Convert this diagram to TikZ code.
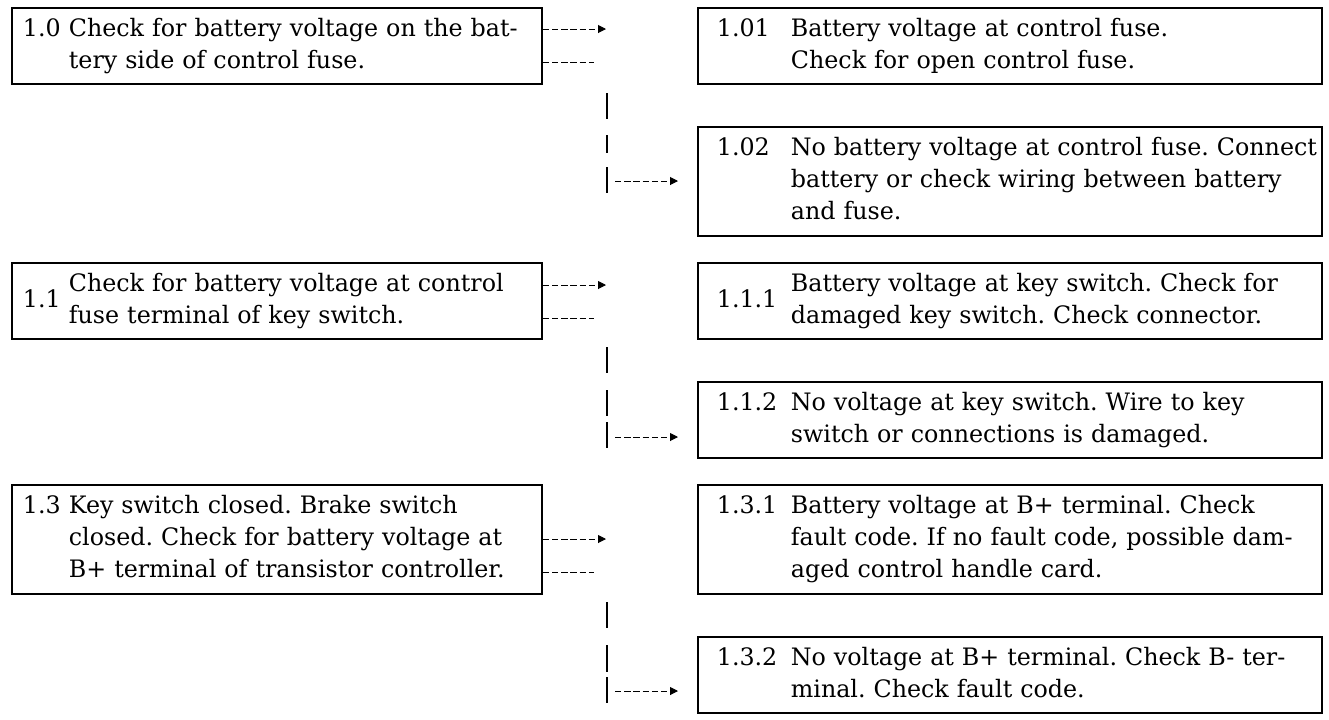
\documentclass[tikz,border=0pt]{standalone}
\usepackage{fontspec}
\setmainfont{DejaVu Serif}[FakeStretch=0.99]
\usetikzlibrary{arrows.meta}
\frenchspacing
\newcommand{\leftitem}[3][0pt]{\makebox[23pt][l]{\raisebox{-#1}{#2}}\begin{tabular}[t]{@{}l@{}}#3\end{tabular}}
\newcommand{\rightitem}[3][0pt]{\makebox[37pt][l]{\raisebox{-#1}{#2}}\begin{tabular}[t]{@{}l@{}}#3\end{tabular}}

\begin{document}
\begin{tikzpicture}[x=0.5pt, y=-0.5pt,
    font=\fontsize{12}{16}\selectfont,
    chkbox/.style={draw, line width=0.9pt, anchor=north west, text width=254pt,
      inner xsep=5.5pt, inner ysep=0pt, align=left, minimum height=38pt},
    resbox/.style={chkbox, text width=293pt, inner xsep=9.5pt},
    tall/.style={minimum height=54.5pt},
    dashline/.style={line width=0.5pt, dash pattern=on 3.2pt off 1.4pt},
    dasharrow/.style={dashline, -{Triangle[length=4pt,width=4pt]}},
    riser/.style={line width=0.55pt}]
    \useasboundingbox (0,0) rectangle (1329,719);

    % checks
    \node[chkbox] (chk10) at (11,7) {\leftitem{1.0}{Check for battery voltage on the bat-\\tery side of control fuse.}};
    \node[chkbox] (chk11) at (11,262) {\leftitem[8pt]{1.1}{Check for battery voltage at control\\fuse terminal of key switch.}};
    \node[chkbox, tall] (chk13) at (11,484) {\leftitem{1.3}{Key switch closed. Brake switch\\closed. Check for battery voltage at\\B+ terminal of transistor controller.}};

    % results
    \node[resbox] (res101) at (697,7) {\rightitem{1.01}{Battery voltage at control fuse.\\Check for open control fuse.}};
    \node[resbox, tall] (res102) at (697,126) {\rightitem{1.02}{No battery voltage at control fuse. Connect\\battery or check wiring between battery\\and fuse.}};
    \node[resbox] (res111) at (697,262) {\rightitem[8pt]{1.1.1}{Battery voltage at key switch. Check for\\damaged key switch. Check connector.}};
    \node[resbox] (res112) at (697,381) {\rightitem{1.1.2}{No voltage at key switch. Wire to key\\switch or connections is damaged.}};
    \node[resbox, tall] (res131) at (697,484) {\rightitem{1.3.1}{Battery voltage at B+ terminal. Check\\fault code. If no fault code, possible dam-\\aged control handle card.}};
    \node[resbox] (res132) at (697,636) {\rightitem{1.3.2}{No voltage at B+ terminal. Check B- ter-\\minal. Check fault code.}};

    % row 1.0
    \coordinate (up10) at (606,29);
    \coordinate (dn10) at (594,62);
    \coordinate (go10) at (615,181);
    \draw[dasharrow] (chk10.east |- up10) -- (up10);
    \draw[dashline] (chk10.east |- dn10) -- (dn10);
    \draw[riser] (607,93) -- (607,119) (607,135) -- (607,153) (607,167) -- (607,193);
    \draw[dasharrow, shorten >=9.5pt] (go10) -- (go10 -| res102.west);

    % row 1.1
    \coordinate (up11) at (606,285);
    \coordinate (dn11) at (594,318);
    \coordinate (go11) at (615,437);
    \draw[dasharrow] (chk11.east |- up11) -- (up11);
    \draw[dashline] (chk11.east |- dn11) -- (dn11);
    \draw[riser] (607,347) -- (607,373) (607,390) -- (607,416) (607,422) -- (607,448);
    \draw[dasharrow, shorten >=9.5pt] (go11) -- (go11 -| res112.west);

    % row 1.3
    \coordinate (up13) at (606,539);
    \coordinate (dn13) at (594,572);
    \coordinate (go13) at (615,691);
    \draw[dasharrow] (chk13.east |- up13) -- (up13);
    \draw[dashline] (chk13.east |- dn13) -- (dn13);
    \draw[riser] (607,602) -- (607,628) (607,645) -- (607,672) (607,677) -- (607,703);
    \draw[dasharrow, shorten >=9.5pt] (go13) -- (go13 -| res132.west);
\end{tikzpicture}
\end{document}
